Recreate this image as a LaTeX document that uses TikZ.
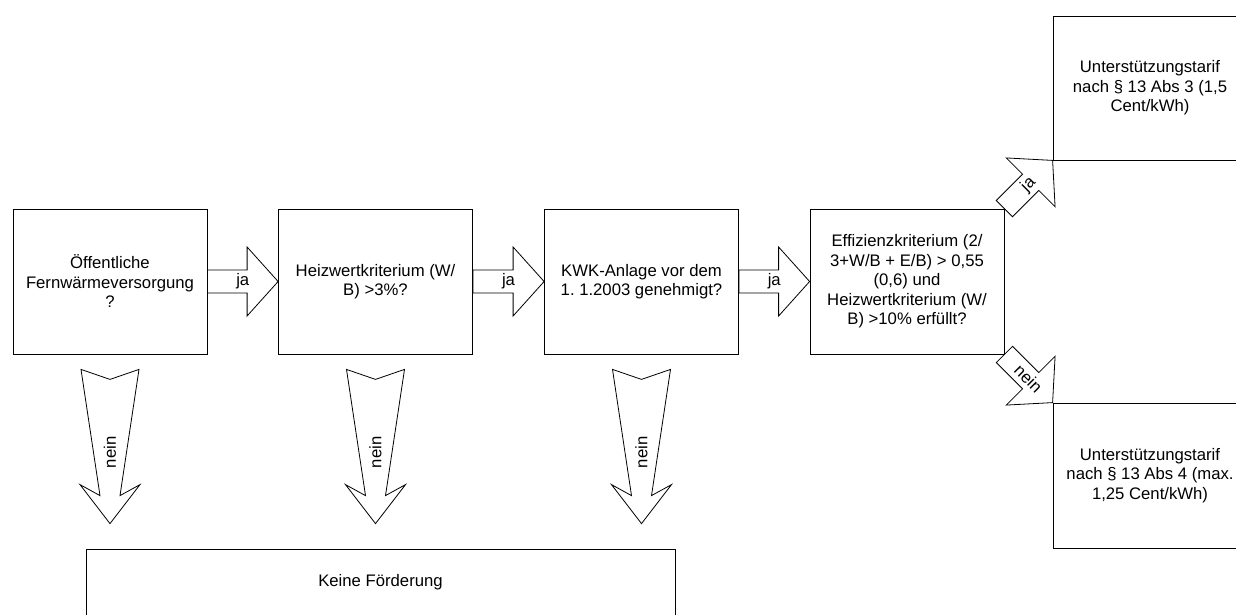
\documentclass[tikz,border=0pt]{standalone}
\usepackage{fontspec}
\setmainfont{Liberation Sans}
\usetikzlibrary{calc}
\frenchspacing

% block arrow from tail #2 to tip #3, label #4 turned by #5
\newcommand{\bigarrow}[5]{%
\coordinate (#1-b) at ($(#3)!31pt!(#2)$);
\draw[arrowline] ($(#2)!11.5pt!90:(#3)$) -- ($(#1-b)!11.5pt!90:(#3)$) -- ($(#1-b)!34.5pt!90:(#3)$)
  -- (#3) -- ($(#1-b)!34.5pt!-90:(#3)$) -- ($(#1-b)!11.5pt!-90:(#3)$) -- ($(#2)!11.5pt!-90:(#3)$) -- cycle;
\node[rotate=#5] (#1) at ($(#2)!0.5!(#3)$) {#4};
}

% tapered arrow below box #2 pointing at box #3
\newcommand{\neinarrow}[3]{%
\draw[arrowline] ($(#2.south)+(-29,15)$) -- ($(#2.south)+(0,25)$) -- ($(#2.south)+(29,15)$)
  -- ($(#2.south |- #3.north)+(10,-53)$) -- ($(#2.south |- #3.north)+(30,-64)$)
  -- ($(#2.south |- #3.north)+(0,-25)$)
  -- ($(#2.south |- #3.north)+(-30,-64)$) -- ($(#2.south |- #3.north)+(-10,-53)$) -- cycle;
\node[rotate=90] (#1) at ($(#2.south)+(0,98)$) {nein};
}

\begin{document}
\begin{tikzpicture}[x=1pt, y=-1pt,
  every node/.style={font=\fontsize{16.7}{19.5}\selectfont},
  box/.style={draw, line width=0.8pt, minimum width=194pt, minimum height=145pt, align=center, inner sep=0pt},
  arrowline/.style={draw, line width=0.8pt}]
\useasboundingbox (0,0) rectangle (1236,614);
\clip (0,0) rectangle (1236,614);

\node[box] (oeff) at (110,281.5) {Öffentliche\\Fernwärmeversorgung\\?};
\node[box] (heiz) at (375.5,281.5) {Heizwertkriterium (W/\\B) >3\%?};
\node[box] (kwk) at (641.5,281.5) {KWK-Anlage vor dem\\1. 1.2003 genehmigt?};
\node[box] (eff) at (907,281.5) {Effizienzkriterium (2/\\3+W/B + E/B) > 0,55\\(0,6) und\\Heizwertkriterium (W/\\B) >10\% erfüllt?};
\node[box, minimum height=144pt] (abs3) at (1150,88) {Unterstützungstarif\\nach § 13 Abs 3 (1,5\\Cent/kWh)};
\node[box] (abs4) at (1150,475.5) {Unterstützungstarif\\nach § 13 Abs 4 (max.\\1,25 Cent/kWh)};
\node[box, minimum width=589pt, minimum height=66pt] (keine) at (380.5,582) {Keine Förderung};

\bigarrow{ja1}{oeff.east}{heiz.west}{ja}{0}
\bigarrow{ja2}{heiz.east}{kwk.west}{ja}{0}
\bigarrow{ja3}{kwk.east}{eff.west}{ja}{0}
\bigarrow{ja4}{eff.north east}{abs3.south west}{ja}{45}
\bigarrow{nein4}{eff.south east}{abs4.north west}{nein}{-45}

\neinarrow{nein1}{oeff}{keine}
\neinarrow{nein2}{heiz}{keine}
\neinarrow{nein3}{kwk}{keine}
\end{tikzpicture}
\end{document}
